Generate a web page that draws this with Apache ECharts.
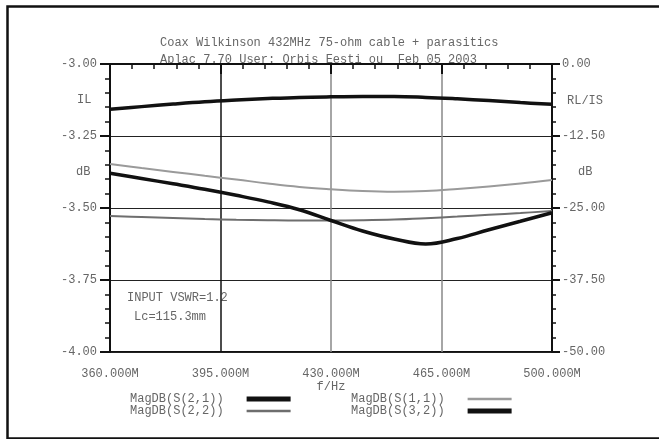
<!DOCTYPE html>
<html><head><meta charset="utf-8">
<script src="https://cdn.jsdelivr.net/npm/echarts@6.0.0/dist/echarts.min.js"></script>
<style>html,body{margin:0;padding:0;background:#fff}#c{width:659px;height:439px}</style>
</head><body><div id="c"></div>
<script>
// frequency in MHz
const freqMHz = [360, 370, 380, 390, 400, 410, 420, 430, 440, 450, 460, 470, 480, 490, 500];
// IL (left axis, dB)
const magS21 = [-3.157, -3.148, -3.139, -3.131, -3.125, -3.120, -3.116, -3.114, -3.113, -3.113, -3.116, -3.121, -3.127, -3.134, -3.140];
// RL / IS (right axis, dB)
const magS11 = [-17.36, -18.06, -18.73, -19.41, -20.05, -20.75, -21.35, -21.75, -22.05, -22.17, -22.05, -21.70, -21.27, -20.75, -20.14];
const magS22 = [-26.39, -26.56, -26.74, -26.91, -27.03, -27.12, -27.17, -27.17, -27.12, -27.00, -26.77, -26.49, -26.18, -25.87, -25.52];
const magS32 = [-18.98, -19.88, -20.80, -21.75, -22.80, -23.94, -25.30, -27.17, -28.99, -30.38, -31.25, -30.30, -28.77, -27.31, -25.82];

const seriesNames = ['MagDB(S(2,1))', 'MagDB(S(2,2))', 'MagDB(S(1,1))', 'MagDB(S(3,2))'];
const titleLines = ['Coax Wilkinson 432MHz 75-ohm cable + parasitics', 'Aplac 7.70 User: Orbis Eesti ou  Feb 05 2003'];
const noteLines = ['INPUT VSWR=1.2', 'Lc=115.3mm'];
const xAxisName = 'f/Hz';
const leftAxisLabels = ['IL', 'dB'];
const rightAxisLabels = ['RL/IS', 'dB'];

const FONT = 'Liberation Mono';
const TXT = '#666';
const pairs = arr => freqMHz.map((f, i) => [f, arr[i]]);
const legendBase = {
  orient: 'vertical', align: 'right', itemWidth: 44, itemHeight: 6, itemGap: 0, selectedMode: false,
  itemStyle: {opacity: 0},
  textStyle: {fontFamily: FONT, fontSize: 12, color: TXT, lineHeight: 11, padding: [0, 18, 0, 0]}
};
const thick = {lineStyle: {width: 5}};
const thin = {lineStyle: {width: 2.5}};

const chart = echarts.init(document.getElementById('c'), null, {renderer: 'canvas'});
chart.setOption({
  animation: false,
  backgroundColor: '#fff',
  title: {
    text: titleLines.join('\n'),
    left: 155, top: 29, z: -10,
    textStyle: {fontFamily: FONT, fontSize: 12, fontWeight: 'normal', color: TXT, lineHeight: 17}
  },
  grid: {left: 110, right: 107, top: 64, bottom: 87, show: true, backgroundColor: '#fff', borderColor: '#111', borderWidth: 2, z: 0},
  xAxis: {
    type: 'value', min: 360, max: 500, interval: 35,
    name: xAxisName, nameLocation: 'middle', nameGap: 29, nameMoveOverlap: false,
    nameTextStyle: {fontFamily: FONT, fontSize: 12, color: TXT},
    axisLine: {lineStyle: {color: '#111', width: 2}},
    axisTick: {inside: false, length: 10, lineStyle: {color: '#111', width: 2}},
    minorTick: {show: true, splitNumber: 5, length: 5, lineStyle: {color: '#111', width: 1.5}},
    axisLabel: {fontFamily: FONT, fontSize: 12, color: TXT, margin: 16, formatter: v => v.toFixed(3) + 'M'},
    splitLine: {show: true, lineStyle: {color: ['#111', '#111', '#888', '#888', '#111'], width: 1.5}}
  },
  yAxis: [{
    type: 'value', min: -4, max: -3, interval: 0.25, position: 'left',
    axisLine: {show: true, lineStyle: {color: '#111', width: 2}},
    axisTick: {show: true, length: 10, lineStyle: {color: '#111', width: 2}},
    minorTick: {show: true, splitNumber: 5, length: 5, lineStyle: {color: '#111', width: 1.5}},
    axisLabel: {fontFamily: FONT, fontSize: 12, color: TXT, margin: 13, formatter: v => v.toFixed(2)},
    splitLine: {show: true, lineStyle: {color: '#222', width: 1.2}}
  }, {
    type: 'value', min: -50, max: 0, interval: 12.5, position: 'right',
    axisLine: {show: true, lineStyle: {color: '#111', width: 2}},
    axisTick: {show: true, length: 8, lineStyle: {color: '#111', width: 2}},
    minorTick: {show: true, splitNumber: 5, length: 4, lineStyle: {color: '#111', width: 1.5}},
    axisLabel: {fontFamily: FONT, fontSize: 12, color: TXT, margin: 10, formatter: v => v.toFixed(2)},
    splitLine: {show: false}
  }],
  legend: [
    Object.assign({data: [Object.assign({name: seriesNames[0]}, thick), Object.assign({name: seriesNames[1]}, thin)], left: 125, top: 388}, legendBase),
    Object.assign({data: [Object.assign({name: seriesNames[2]}, thin), Object.assign({name: seriesNames[3]}, thick)], left: 346, top: 388}, legendBase)
  ],
  graphic: [
    {type: 'rect', left: 5, top: 4, shape: {width: 670, height: 432}, style: {fill: 'none', stroke: '#111', lineWidth: 2.5}, silent: true},
    {type: 'text', left: 127, top: 292, style: {text: noteLines[0], font: '12px "Liberation Mono"', fill: TXT}},
    {type: 'text', left: 134, top: 311, style: {text: noteLines[1], font: '12px "Liberation Mono"', fill: TXT}},
    {type: 'text', left: 77, top: 94, style: {text: leftAxisLabels[0], font: '12px "Liberation Mono"', fill: TXT}},
    {type: 'text', left: 76, top: 166, style: {text: leftAxisLabels[1], font: '12px "Liberation Mono"', fill: TXT}},
    {type: 'text', left: 567, top: 95, style: {text: rightAxisLabels[0], font: '12px "Liberation Mono"', fill: TXT}},
    {type: 'text', left: 578, top: 166, style: {text: rightAxisLabels[1], font: '12px "Liberation Mono"', fill: TXT}}
  ],
  series: [
    {name: seriesNames[0], type: 'line', yAxisIndex: 0, data: pairs(magS21), smooth: 0.4, symbol: 'none', lineStyle: {color: '#111', width: 3.5}, itemStyle: {color: '#111'}, z: 5},
    {name: seriesNames[1], type: 'line', yAxisIndex: 1, data: pairs(magS22), smooth: 0.4, symbol: 'none', lineStyle: {color: '#6e6e6e', width: 2}, itemStyle: {color: '#6e6e6e'}, z: 3},
    {name: seriesNames[2], type: 'line', yAxisIndex: 1, data: pairs(magS11), smooth: 0.4, symbol: 'none', lineStyle: {color: '#9a9a9a', width: 2}, itemStyle: {color: '#9a9a9a'}, z: 3},
    {name: seriesNames[3], type: 'line', yAxisIndex: 1, data: pairs(magS32), smooth: 0.4, symbol: 'none', lineStyle: {color: '#111', width: 3.5}, itemStyle: {color: '#111'}, z: 5}
  ]
});
</script>
</body></html>
